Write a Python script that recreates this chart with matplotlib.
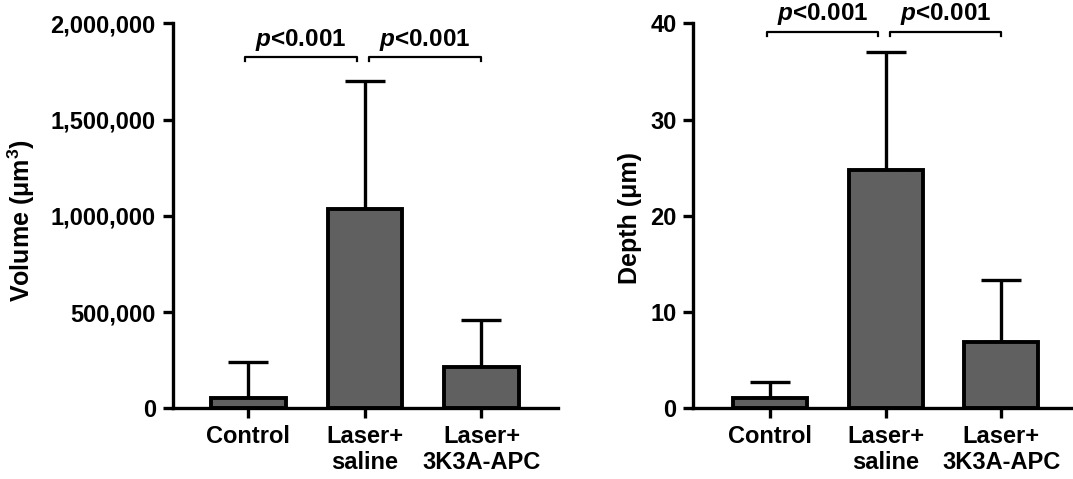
import numpy as np
import matplotlib
matplotlib.use("Agg")
import matplotlib.pyplot as plt
import matplotlib.ticker as mtick

plt.rcParams['font.family'] = ['Liberation Sans', 'DejaVu Sans']
plt.rcParams['font.weight'] = 'bold'
plt.rcParams['mathtext.fontset'] = 'custom'
plt.rcParams['mathtext.rm'] = 'Liberation Sans:bold'
plt.rcParams['mathtext.it'] = 'Liberation Sans:italic:bold'

groups = ["Control", "Laser+\nsaline", "Laser+\n3K3A-APC"]

volume_mean = [52500, 1033000, 216000]
volume_sd = [185500, 667000, 243000]

depth_mean = [1.05, 24.77, 6.85]
depth_sd = [1.73, 12.27, 6.44]

# significance brackets: (x start, x end, label)
brackets = [(-0.03, 0.93, "$p$<0.001"), (1.035, 2.0, "$p$<0.001")]

bar_color = "#606060"
lw = 2.4


def draw_panel(ax, means, sds, ylim, yticks, ylabel, xlim, br_y, br_drop, txt_y):
    x = np.arange(len(means))
    ax.bar(x, means, width=0.64, color=bar_color, edgecolor="black", linewidth=2.8, zorder=2)
    ax.errorbar(x, means, yerr=[np.zeros(len(sds)), sds], fmt="none", ecolor="black",
                elinewidth=lw, capsize=14.4, capthick=lw, zorder=1)
    ax.set_xlim(*xlim)
    ax.set_ylim(*ylim)
    ax.set_yticks(yticks)
    ax.set_xticks(x)
    ax.set_xticklabels(groups, fontsize=17, fontweight="bold", linespacing=1.15)
    ax.tick_params(axis="y", labelsize=17, length=7.5, width=lw, pad=4.5)
    ax.tick_params(axis="x", length=7.5, width=lw, pad=4.5)
    for s in ["top", "right"]:
        ax.spines[s].set_visible(False)
    for s in ["left", "bottom"]:
        ax.spines[s].set_linewidth(lw)
    ax.set_ylabel(ylabel, fontsize=18, fontweight="bold")
    for x0, x1, lab in brackets:
        ax.plot([x0, x0, x1, x1], [br_y - br_drop, br_y, br_y, br_y - br_drop],
                color="black", lw=1.6, clip_on=False)
        ax.text((x0 + x1) / 2, txt_y, lab, ha="center", va="baseline", fontsize=17.5,
                fontweight="bold", clip_on=False)


fig = plt.figure(figsize=(10.73, 4.79), dpi=100)
ax1 = fig.add_axes([0.1608, 0.1476, 0.3596, 0.8038])
ax2 = fig.add_axes([0.6461, 0.1476, 0.3539, 0.8038])

draw_panel(ax1, volume_mean, volume_sd, (0, 2000000), [0, 500000, 1000000, 1500000, 2000000],
           "Volume (μm$^3$)", (-0.65, 2.66), 1826000, 22000, 1882000)
ax1.yaxis.set_major_formatter(mtick.StrMethodFormatter("{x:,.0f}"))
ax1.yaxis.set_label_coords(-0.351, 0.487)

draw_panel(ax2, depth_mean, depth_sd, (0, 40), [0, 10, 20, 30, 40],
           "Depth (μm)", (-0.668, 2.62), 39.13, 0.45, 40.34)
ax2.yaxis.set_label_coords(-0.135, 0.493)

fig.savefig("out.png", dpi=100)
